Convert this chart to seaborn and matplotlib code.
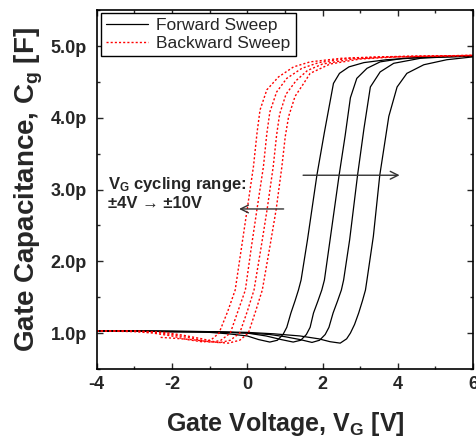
import numpy as np
import matplotlib
matplotlib.use("Agg")
import matplotlib.pyplot as plt
import seaborn as sns

# forward sweeps (black solid), gate voltage [V] vs capacitance [pF]
f1_v = [-4, -3, -2, -1, -0.5, 0, 0.3, 0.6, 0.8, 0.95, 1.05, 1.16, 1.27, 1.36, 1.43, 1.6, 1.85, 2.05, 2.29, 2.45, 2.7, 3.1, 3.7, 4.6, 6]
f1_c = [1.03, 1.03, 1.02, 1.01, 0.99, 0.96, 0.91, 0.875, 0.9, 0.98, 1.08, 1.28, 1.45, 1.6, 1.74, 2.3, 3.2, 3.8, 4.48, 4.62, 4.71, 4.77, 4.81, 4.84, 4.86]
f2_v = [-4, -3, -2, -1, 0, 0.5, 0.9, 1.22, 1.42, 1.57, 1.67, 1.76, 1.88, 1.98, 2.05, 2.2, 2.44, 2.6, 2.74, 2.91, 3.18, 3.53, 4.15, 5, 6]
f2_c = [1.03, 1.03, 1.02, 1.02, 1.0, 0.96, 0.91, 0.875, 0.9, 0.98, 1.08, 1.28, 1.45, 1.6, 1.74, 2.3, 3.2, 3.75, 4.28, 4.55, 4.69, 4.78, 4.83, 4.85, 4.86]
f3_v = [-4, -3, -2, -1, 0, 0.6, 1.0, 1.4, 1.72, 1.92, 2.07, 2.17, 2.28, 2.4, 2.5, 2.56, 2.72, 2.93, 3.1, 3.27, 3.53, 3.89, 4.6, 5.3, 6]
f3_c = [1.03, 1.03, 1.02, 1.02, 1.0, 0.98, 0.95, 0.91, 0.87, 0.9, 0.98, 1.08, 1.28, 1.45, 1.6, 1.74, 2.3, 3.2, 3.85, 4.43, 4.64, 4.76, 4.83, 4.85, 4.86]
f4_v = [-4, -3, -2, -1, 0, 0.7, 1.4, 1.9, 2.2, 2.47, 2.64, 2.74, 2.85, 2.96, 3.06, 3.14, 3.18, 3.35, 3.52, 3.76, 3.98, 4.24, 4.69, 5.3, 6]
f4_c = [1.03, 1.03, 1.03, 1.02, 1.01, 0.99, 0.96, 0.92, 0.88, 0.86, 0.92, 1.0, 1.12, 1.28, 1.45, 1.6, 1.74, 2.35, 3.2, 4.02, 4.43, 4.62, 4.74, 4.81, 4.85]

# backward sweeps (red dotted)
b1_v = [-4, -3, -2.5, -2, -1.6, -1.15, -0.95, -0.75, -0.52, -0.32, -0.15, 0.0, 0.165, 0.26, 0.34, 0.52, 0.83, 1.23, 1.67, 2.5, 3.5, 4.5, 6]
b1_c = [1.03, 1.02, 1.0, 0.96, 0.91, 0.875, 0.91, 1.0, 1.3, 1.6, 2.2, 2.73, 3.32, 3.79, 4.11, 4.39, 4.57, 4.71, 4.78, 4.83, 4.85, 4.86, 4.87]
b2_v = [-4, -3, -2.4, -1.9, -1.4, -0.95, -0.7, -0.45, -0.25, -0.05, 0.11, 0.26, 0.43, 0.52, 0.6, 0.78, 1.05, 1.45, 1.9, 2.7, 3.7, 6]
b2_c = [1.03, 1.03, 1.01, 0.97, 0.92, 0.87, 0.9, 1.0, 1.3, 1.6, 2.2, 2.73, 3.32, 3.78, 4.08, 4.36, 4.55, 4.69, 4.77, 4.83, 4.85, 4.87]
b3_v = [-4, -3, -2.2, -1.7, -1.2, -0.75, -0.45, -0.2, 0.0, 0.18, 0.37, 0.53, 0.69, 0.78, 0.86, 1.03, 1.3, 1.6, 2.0, 2.8, 3.8, 6]
b3_c = [1.03, 1.03, 1.01, 0.97, 0.92, 0.865, 0.9, 1.0, 1.3, 1.6, 2.2, 2.73, 3.32, 3.76, 4.05, 4.33, 4.52, 4.66, 4.75, 4.82, 4.85, 4.87]
b4_v = [-2.3, -2.0, -1.5, -1.0, -0.5, -0.2, 0.03, 0.22, 0.4, 0.6, 0.77, 0.92, 1.01, 1.1, 1.27, 1.5, 1.67, 2.2, 3.0, 4.0, 6]
b4_c = [0.94, 0.93, 0.91, 0.88, 0.86, 0.9, 1.0, 1.3, 1.6, 2.2, 2.73, 3.32, 3.74, 4.02, 4.3, 4.48, 4.62, 4.75, 4.82, 4.85, 4.87]

forward = [(f1_v, f1_c), (f2_v, f2_c), (f3_v, f3_c), (f4_v, f4_c)]
backward = [(b1_v, b1_c), (b2_v, b2_c), (b3_v, b3_c), (b4_v, b4_c)]

sns.set_style("ticks")
plt.rcParams['font.family'] = ['Liberation Sans', 'DejaVu Sans']
plt.rcParams['axes.unicode_minus'] = False
plt.rcParams['mathtext.fontset'] = 'custom'
plt.rcParams['mathtext.rm'] = 'Liberation Sans'
plt.rcParams['mathtext.bf'] = 'Liberation Sans:bold'
plt.rcParams['mathtext.it'] = 'Liberation Sans:italic'

fig = plt.figure(figsize=(4.76, 4.44), dpi=100)
ax = fig.add_axes([0.203, 0.169, 0.791, 0.808])

for i, (v, c) in enumerate(forward):
    sns.lineplot(x=v, y=c, ax=ax, color='black', linewidth=0.9, sort=False,
                 estimator=None, label='Forward Sweep' if i == 0 else None)
for i, (v, c) in enumerate(backward):
    sns.lineplot(x=v, y=c, ax=ax, color='red', linewidth=1.0, sort=False,
                 estimator=None, label='Backward Sweep' if i == 0 else None)
for ln in ax.lines[4:]:
    ln.set_linestyle((0, (1.5, 1.5)))

ax.set_xlim(-4, 6)
ax.set_ylim(0.5, 5.5)
ax.set_xticks([-4, -2, 0, 2, 4, 6])
ax.set_xticks(np.arange(-4, 6.1, 1), minor=True)
ax.set_yticks([1, 2, 3, 4, 5])
ax.set_yticklabels([f"{t:.1f}p" for t in [1, 2, 3, 4, 5]])
ax.set_yticks(np.arange(0.5, 5.6, 0.5), minor=True)
ax.tick_params(which='both', direction='in', top=True, right=True, width=1.0)
ax.tick_params(which='major', length=4)
ax.tick_params(which='minor', length=2.5)
ax.tick_params(axis='x', pad=5)
ax.tick_params(axis='y', pad=7)
for lab in ax.get_xticklabels() + ax.get_yticklabels():
    lab.set_fontweight('bold')
    lab.set_fontsize(13)
for sp in ax.spines.values():
    sp.set_linewidth(1.2)
    sp.set_color('black')

ax.set_xlabel(r"Gate Voltage, $\mathbf{V_G}$ [V]", fontsize=18, fontweight='bold', labelpad=12)
ax.set_ylabel(r"Gate Capacitance, $\mathbf{C_g}$ [F]", fontsize=20, fontweight='bold', labelpad=4)

ax.text(-3.7, 3.07, r"$\mathbf{V_G}$ cycling range:", fontsize=12, fontweight='bold', va='center')
ax.text(-3.7, 2.80, "±4V → ±10V", fontsize=12, fontweight='bold', va='center',
        family=['Liberation Sans', 'DejaVu Sans'])
ax.annotate("", xy=(4.12, 3.2), xytext=(1.41, 3.2),
            arrowprops=dict(arrowstyle='->', color='#333333', lw=1.0, mutation_scale=14))
ax.annotate("", xy=(-0.29, 2.73), xytext=(1.04, 2.73),
            arrowprops=dict(arrowstyle='->', color='#333333', lw=1.0, mutation_scale=14))

leg = ax.legend(loc='upper left', bbox_to_anchor=(0.011, 0.992), borderaxespad=0,
                fontsize=12.5, frameon=True, fancybox=False, handlelength=2.4,
                borderpad=0.3, labelspacing=0.15, handletextpad=0.5)
leg.get_frame().set_edgecolor('black')
leg.get_frame().set_linewidth(1.0)
leg.get_frame().set_alpha(1)
leg.get_lines()[1].set_linestyle((0, (1.5, 1.5)))

fig.savefig("out.png", dpi=100)
